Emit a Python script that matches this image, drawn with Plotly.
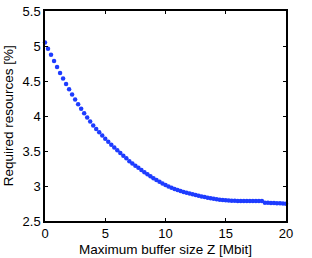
import plotly.graph_objects as go

# Buffer size Z [Mbit], step 0.25
buffer_size = [i * 0.25 for i in range(81)]

required_resources = [
    5.050, 4.962, 4.874, 4.787, 4.700, 4.614, 4.534, 4.457, 4.381, 4.307,
    4.235, 4.168, 4.103, 4.040, 3.979, 3.920, 3.866, 3.815, 3.767, 3.720,
    3.675, 3.632, 3.590, 3.549, 3.509, 3.470, 3.432, 3.395, 3.355, 3.322,
    3.290, 3.259, 3.228, 3.198, 3.169, 3.140, 3.112, 3.085, 3.059, 3.035,
    3.013, 2.993, 2.975, 2.958, 2.943, 2.929, 2.916, 2.904, 2.893, 2.882,
    2.871, 2.861, 2.851, 2.842, 2.833, 2.825, 2.817, 2.810, 2.804, 2.799,
    2.795, 2.792, 2.790, 2.788, 2.787, 2.786, 2.786, 2.785, 2.785, 2.785,
    2.785, 2.784, 2.784, 2.762, 2.760, 2.758, 2.756, 2.754, 2.752, 2.750,
    2.748,
]

x_ticks = [0, 5, 10, 15, 20]
y_ticks = [2.5, 3, 3.5, 4, 4.5, 5, 5.5]
y_tick_labels = ["2.5", "3", "3.5", "4", "4.5", "5", "5.5"]
x_title = "Maximum buffer size Z [Mbit]"
y_title = "Required resources [%]"

fig = go.Figure()
fig.add_trace(go.Scatter(
    x=buffer_size, y=required_resources, mode="markers",
    marker=dict(color="rgb(30,60,255)", size=4.5, line=dict(width=0)),
    showlegend=False, cliponaxis=False,
))

tick_font = dict(family="Liberation Sans, Arial, sans-serif", size=13, color="black")
title_font = dict(family="Liberation Sans, Arial, sans-serif", size=13.5, color="black")

fig.update_layout(
    width=312, height=258,
    margin=dict(l=45, r=26, t=11, b=37),
    paper_bgcolor="white", plot_bgcolor="white",
    font=title_font,
    xaxis=dict(
        range=[0, 20], tickvals=x_ticks, ticks="inside", ticklen=3,
        tickcolor="black", showline=True, linecolor="black", linewidth=1.5,
        mirror="ticks", showgrid=False, zeroline=False, automargin=False,
        tickfont=tick_font,
    ),
    yaxis=dict(
        range=[2.5, 5.5], tickvals=y_ticks, ticktext=y_tick_labels,
        ticks="inside", ticklen=3, tickcolor="black", showline=True,
        linecolor="black", linewidth=1.5, mirror="ticks", showgrid=False,
        zeroline=False, automargin=False,
        tickfont=tick_font,
    ),
    annotations=[
        dict(text=x_title, xref="paper", yref="paper", x=0.5, y=-0.135,
             xanchor="center", yanchor="middle", showarrow=False, font=title_font),
        dict(text=y_title, xref="paper", yref="paper", x=-0.152, y=0.5,
             xanchor="center", yanchor="middle", showarrow=False, textangle=-90,
             font=title_font),
    ],
)

fig.write_html("out.html", config={"displayModeBar": False},
               post_script="document.body.style.margin='0px';")
